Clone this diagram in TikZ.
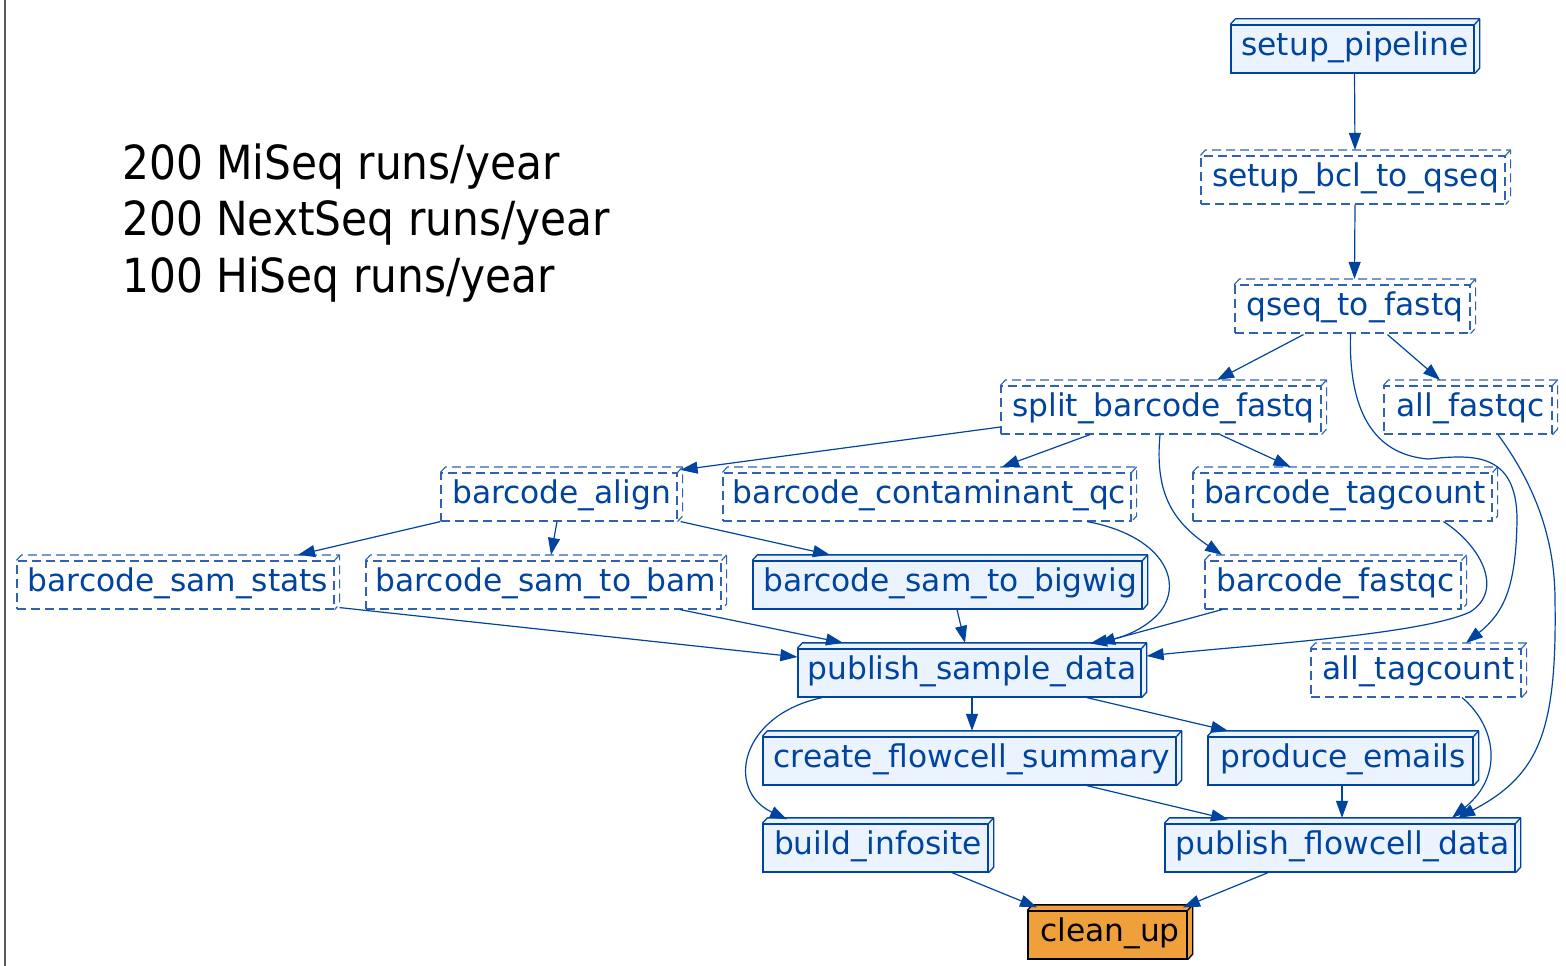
\documentclass[tikz,border=0pt]{standalone}
\usepackage{fontspec}
\setmainfont{DejaVu Sans}
\newfontfamily\condfont[FakeStretch=0.9]{DejaVu Sans}
\usetikzlibrary{arrows.meta,calc}
\definecolor{dblue}{HTML}{0044A0}
\definecolor{dashblue}{HTML}{2F62B4}
\definecolor{lblue}{HTML}{EBF3FF}
\definecolor{corange}{HTML}{EFA03B}
\tikzset{
 task/.style={rectangle, draw=dblue, line width=1.3pt, text=dblue, font=\fontsize{31.3}{37}\selectfont, minimum height=48pt, inner xsep=2pt, inner ysep=0pt, text height=22pt, text depth=9pt, execute at begin node={\hspace{5pt}}},
 donebox/.style={task, fill=lblue},
 pendbox/.style={task, fill=white, draw=dashblue, line width=1.15pt, dash pattern=on 9pt off 5pt},
 finalbox/.style={task, fill=corange, draw=black, text=black},
 flow/.style={draw=dblue, line width=1.2pt, -{Triangle[length=17pt,width=12pt]}},
 cubeline/.style={draw=dblue, line width=1.3pt, line join=round},
 cubedash/.style={draw=dashblue, line width=1.15pt, line join=round, dash pattern=on 9pt off 5pt},
}
\newcommand{\solidcube}[3]{%
 \fill[#2] (#1.north west) -- ++(5,-5.5) -- ([shift={(5,-5.5)}]#1.north east) -- ([shift={(5,-5.5)}]#1.south east) -- (#1.south east) -- (#1.north east) -- cycle;
 \draw[cubeline, draw=#3] (#1.north west) -- ++(5,-5.5) -- ([shift={(5,-5.5)}]#1.north east) -- ([shift={(5,-5.5)}]#1.south east) -- (#1.south east);
 \draw[cubeline, draw=#3] (#1.north east) -- ++(5,-5.5);
 \draw[cubeline, draw=#3] (#1.north west) -- (#1.north east) -- (#1.south east);}
\newcommand{\dashcube}[1]{%
 \draw[cubedash] (#1.north west) -- ++(5,-5.5) -- ([shift={(5,-5.5)}]#1.north east) -- ([shift={(5,-5.5)}]#1.south east) -- (#1.south east);
 \draw[cubedash, solid] (#1.north east) -- ++(5,-5.5);}
\begin{document}
\begin{tikzpicture}[x=1pt,y=-1pt]
\useasboundingbox (0,0) rectangle (1566,966);
\draw[black!65, line width=2pt] (5,0) -- (5,966);
\node[anchor=base west, inner sep=0pt, align=left, font=\condfont\fontsize{47}{56.5}\selectfont] (stats) at (122,292) {200 MiSeq runs/year\\200 NextSeq runs/year\\100 HiSeq runs/year};

\node[donebox, minimum width=243pt] (sp) at (1352.5,49) {setup\_pipeline};
\node[pendbox, minimum width=304pt] (bcl) at (1353,180) {setup\_bcl\_to\_qseq};
\node[pendbox, minimum width=235pt] (qf) at (1352.5,309) {qseq\_to\_fastq};
\node[pendbox, minimum width=320pt] (sbf) at (1161,410) {split\_barcode\_fastq};
\node[pendbox, minimum width=168pt] (afq) at (1468,410) {all\_fastqc};
\node[pendbox, minimum width=236pt] (ba) at (559,497) {barcode\_align};
\node[pendbox, minimum width=408pt] (bcq) at (927,497) {barcode\_contaminant\_qc};
\node[pendbox, minimum width=299pt] (btc) at (1342.5,497) {barcode\_tagcount};
\node[pendbox, minimum width=317pt] (bss) at (175.5,585) {barcode\_sam\_stats};
\node[pendbox, minimum width=355pt] (bstb) at (543.5,585) {barcode\_sam\_to\_bam};
\node[donebox, minimum width=389pt] (bstw) at (947.5,585) {barcode\_sam\_to\_bigwig};
\node[pendbox, minimum width=256pt] (bfq) at (1333,585) {barcode\_fastqc};
\node[donebox, minimum width=343pt] (psd) at (969.5,673) {publish\_sample\_data};
\node[pendbox, minimum width=210pt] (atc) at (1416,673) {all\_tagcount};
\node[donebox, minimum width=413pt] (cfs) at (969.5,761) {create\_flowcell\_summary};
\node[donebox, minimum width=265pt] (pe) at (1340.5,761) {produce\_emails};
\node[donebox, minimum width=225pt] (bi) at (875.5,848) {build\_infosite};
\node[donebox, minimum width=350pt] (pfd) at (1340,848) {publish\_flowcell\_data};
\node[finalbox, minimum width=159pt] (cu) at (1107.5,935) {clean\_up};

\solidcube{sp}{lblue}{dblue}
\solidcube{bstw}{lblue}{dblue}
\solidcube{psd}{lblue}{dblue}
\solidcube{cfs}{lblue}{dblue}
\solidcube{pe}{lblue}{dblue}
\solidcube{bi}{lblue}{dblue}
\solidcube{pfd}{lblue}{dblue}
\solidcube{cu}{corange}{black}
\dashcube{bcl}
\dashcube{qf}
\dashcube{sbf}
\dashcube{afq}
\dashcube{ba}
\dashcube{bcq}
\dashcube{btc}
\dashcube{bss}
\dashcube{bstb}
\dashcube{bfq}
\dashcube{atc}

% connectors
\draw[flow] ([shift={(2,0)}]sp.south) -- ([shift={(2,-5.5)}]bcl.north);
\draw[flow] ([shift={(2,0)}]bcl.south) -- ([shift={(2,-5.5)}]qf.north);
\draw[flow] ([shift={(-49,1)}]qf.south) -- ([shift={(56,-5.5)}]sbf.north);
\draw[flow] ([shift={(35,1)}]qf.south) -- ([shift={(-28,-5.5)}]afq.north);
\draw[flow] ([shift={(-2,0)}]qf.south) .. controls (1348,420) and (1380,455) .. (1428,459)
  .. controls (1470,455) and (1517,450) .. (1517,520)
  .. controls (1516,585) and (1505,612) .. ([shift={(50,-5.5)}]atc.north);
\draw[flow] ([shift={(30,0)}]afq.south) .. controls (1520,465) and (1555,520) .. (1555,600)
  .. controls (1557,730) and (1540,775) .. ([shift={(118,-5.5)}]pfd.north);
\draw[flow] ([shift={(0,17)}]sbf.west) -- ([shift={(3,-2.5)}]ba.north east);
\draw[flow] ([shift={(-71,0)}]sbf.south) -- ([shift={(75,-5.5)}]bcq.north);
\draw[flow] ([shift={(-1,0)}]sbf.south) .. controls (1155,490) and (1170,520) .. ([shift={(-111,-5.5)}]bfq.north);
\draw[flow] ([shift={(59,0)}]sbf.south) -- ([shift={(-52,-5.5)}]btc.north);
\draw[flow] (ba.south west) -- ([shift={(122.5,-5.5)}]bss.north);
\draw[flow] ([shift={(-2,0)}]ba.south) -- ([shift={(7.5,-5.5)}]bstb.north);
\draw[flow] ([shift={(3,0)}]ba.south east) -- ([shift={(-117.5,-5.5)}]bstw.north);
\draw[flow] ([shift={(5,-2)}]bss.south east) -- ([shift={(0,-16)}]psd.west);
\draw[flow] ([shift={(136.5,0)}]bstb.south) -- ([shift={(-126.5,-5.5)}]psd.north);
\draw[flow] ([shift={(9.5,0)}]bstw.south) -- ([shift={(-4.5,-5.5)}]psd.north);
\draw[flow] ([shift={(160,0)}]bcq.south) .. controls (1160,535) and (1185,580) .. (1160,612)
  .. controls (1140,635) and (1110,640) .. ([shift={(120.5,-5)}]psd.north);
\draw[flow] ([shift={(-111,0)}]bfq.south) -- ([shift={(128.5,-5)}]psd.north);
\draw[flow] ([shift={(101,0)}]btc.south) .. controls (1480,545) and (1505,590) .. (1470,612)
  .. controls (1420,635) and (1250,645) .. ([shift={(5,-17)}]psd.east);
\draw[flow] ([shift={(46,0)}]atc.south) .. controls (1495,725) and (1505,775) .. ([shift={(112,-5.5)}]pfd.north);
\draw[flow] ([shift={(2.5,0)}]psd.south) -- ([shift={(2.5,-5.5)}]cfs.north);
\draw[flow] ([shift={(117.5,0)}]psd.south) -- ([shift={(-112.5,-5.5)}]pe.north);
\draw[flow] ([shift={(-147.5,0)}]psd.south) .. controls (740,715) and (725,790) .. ([shift={(-88.5,-4)}]bi.north);
\draw[flow] ([shift={(117.5,0)}]cfs.south) -- ([shift={(-112,-4)}]pfd.north);
\draw[flow] ([shift={(1.5,0)}]pe.south) -- ([shift={(2,-5.5)}]pfd.north);
\draw[flow] ([shift={(76.5,0)}]bi.south) -- ([shift={(-70.5,-3)}]cu.north);
\draw[flow] ([shift={(-72,0)}]pfd.south) -- ([shift={(75.5,-3)}]cu.north);
\end{tikzpicture}
\end{document}
